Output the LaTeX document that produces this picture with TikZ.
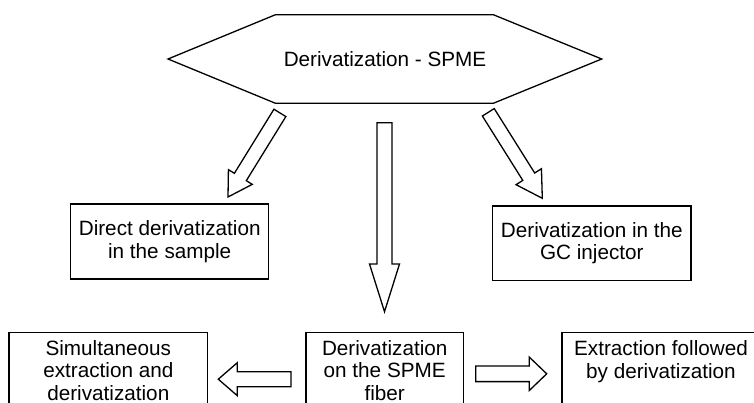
\documentclass[tikz,border=0pt]{standalone}
\usepackage{fontspec}
\setmainfont{Liberation Sans}
\usetikzlibrary{calc}
% block arrow: #1 start, #2 tip, #3 shaft half width, #4 head half width, #5 head length
\newcommand\blockarr[5]{%
  \coordinate (hb) at ($(#2)!#5!(#1)$);
  \draw[shapeline] ($(#1)!#3!90:(#2)$) -- ($(hb)!#3!90:(#2)$) -- ($(hb)!#4!90:(#2)$) -- (#2)
    -- ($(hb)!#4!-90:(#2)$) -- ($(hb)!#3!-90:(#2)$) -- ($(#1)!#3!-90:(#2)$) -- cycle;}
\begin{document}
\begin{tikzpicture}[x=1pt,y=-1pt,
  shapeline/.style={draw=black,line width=1.3pt,line join=miter},
  txt/.style={font=\fontsize{20.7pt}{22.5pt}\selectfont,align=center},
  box/.style={txt,shapeline,inner sep=0pt},
  bbox/.style={txt,anchor=north,inner xsep=0pt,inner ysep=7.5pt}]
\clip (0,0) rectangle (754,403);
\fill[white] (0,0) rectangle (754,403);
% hexagon
\coordinate (hl) at (168,59);
\coordinate (htl) at (275.5,14.7);
\coordinate (htr) at (493.3,14.7);
\coordinate (hr) at (601.7,59);
\coordinate (hbr) at (493.3,103.3);
\coordinate (hbl) at (275.5,103.3);
\draw[shapeline] (hl) -- (htl) -- (htr) -- (hr) -- (hbr) -- (hbl) -- cycle;
\node[txt,inner sep=0pt] (hex) at (385,59.5) {Derivatization - SPME};
% boxes
\node[box,minimum width=198pt,minimum height=75pt] (direct) at (169.7,241.5) {Direct derivatization\\in the sample};
\node[box,minimum width=198.3pt,minimum height=74.7pt] (gc) at (591.8,243.3) {Derivatization in the\\GC injector};
\node[bbox,minimum width=198pt] (simul) at (108.3,332.7) {Simultaneous\\extraction and\\derivatization};
\node[bbox,minimum width=157.3pt] (fiber) at (384.7,332.7) {Derivatization\\on the SPME\\fiber};
\node[bbox,minimum width=197.4pt,inner ysep=8pt] (extr) at (661,332.7) {Extraction followed\\by derivatization};
\foreach \b in {simul,fiber,extr}
  \draw[shapeline] (\b.north west) rectangle ($(\b.north east)+(0,100)$);
% block arrows
\coordinate (a1s) at (279.9,112.9); \coordinate (a1t) at (228,197);
\blockarr{a1s}{a1t}{7pt}{14pt}{23.5pt}
\coordinate (a2s) at (488.3,112.3); \coordinate (a2t) at (542.3,198.3);
\blockarr{a2s}{a2t}{7pt}{15pt}{25.5pt}
\coordinate (a3s) at (384.5,122.7); \coordinate (a3t) at (384.5,311.7);
\blockarr{a3s}{a3t}{7.5pt}{15pt}{47.7pt}
\coordinate (a4s) at (291,379.2); \coordinate (a4t) at (218.3,379.2);
\blockarr{a4s}{a4t}{7.5pt}{16.5pt}{19pt}
\coordinate (a5s) at (475.7,373.8); \coordinate (a5t) at (546.7,373.8);
\blockarr{a5s}{a5t}{7.8pt}{16.7pt}{17.4pt}
\end{tikzpicture}
\end{document}
